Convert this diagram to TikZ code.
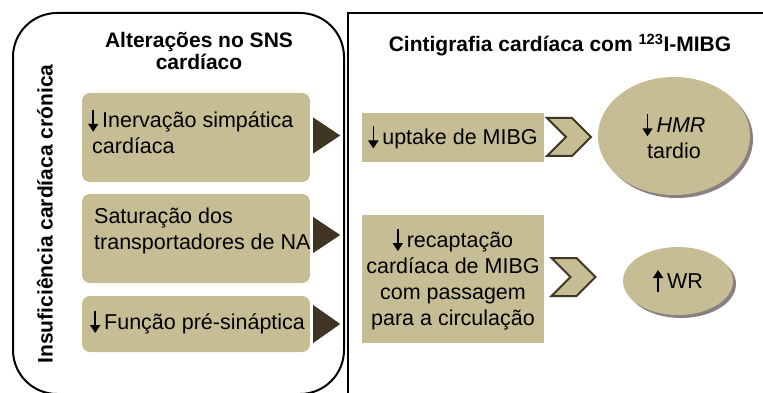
\documentclass[tikz,border=0pt]{standalone}
\usepackage{fontspec}
\setmainfont{Liberation Sans}
\usetikzlibrary{arrows.meta,shapes.geometric,shapes.symbols,shadows}
\definecolor{caqui}{HTML}{C6BD94}
\definecolor{castanho}{HTML}{3F3522}
\definecolor{sombra}{HTML}{8A8080}
\newcommand\setabaixo{\tikz[x=1pt,y=1pt,baseline=0pt]\draw[line width=1.6pt,-{Triangle[length=8pt,width=10pt]}] (0,18)--(0,-4);\hspace{4pt}}
\newcommand\setacima{\tikz[x=1pt,y=1pt,baseline=0pt]\draw[line width=1.6pt,-{Triangle[length=8pt,width=10pt]}] (0,-4)--(0,18);\hspace{4pt}}
\begin{document}
\begin{tikzpicture}[x=1pt,y=-1pt,line join=miter,font=\fontsize{21.5}{26}\selectfont]
		\tikzset{caixa/.style={fill=caqui,inner sep=0pt},
			texto/.style={inner sep=0pt,align=left,anchor=west},
			titulo/.style={inner sep=0pt,align=center,font=\bfseries\fontsize{21}{22}\selectfont},
			chevron/.style={signal,signal to=east,signal from=west,fill=caqui,draw=castanho,line width=2pt,
				inner sep=0pt,minimum width=44pt,minimum height=38pt},
			balao/.style={ellipse,fill=caqui,inner sep=0pt,align=center,
				drop shadow={shadow xshift=3pt,shadow yshift=-3pt,fill=sombra,opacity=1}}}
		\useasboundingbox (0,0) rectangle (763,393);
		%--------- Painéis
		\draw[line width=2pt,rounded corners=44pt] (13,13) rectangle (344,394);
		\draw[line width=2.5pt] (348,400)--(348,13)--(770,13);
		\node[titulo] (tsns) at (199,51) {Alterações no SNS\\cardíaco};
		\node[titulo] (tcint) at (560,45) {Cintigrafia cardíaca com \textsuperscript{123}I-MIBG};
		\node[rotate=90,inner sep=0pt,font=\bfseries\fontsize{21}{26}\selectfont] (icc) at (45,214) {Insuficiência cardíaca crónica};
		%--------- Alterações
		\node[caixa,rounded corners=8pt,minimum width=228pt,minimum height=89pt] (b1) at (196,137.5) {};
		\node[caixa,rounded corners=8pt,minimum width=228pt,minimum height=89pt] (b2) at (196,238.5) {};
		\node[caixa,rounded corners=8pt,minimum width=228pt,minimum height=56pt] (b3) at (196,324) {};
		\node[texto] (t1) at (88,131.5) {\setabaixo Inervação simpática\\\hspace*{4pt}cardíaca};
		\node[texto] (t2) at (94,230.5) {Saturação dos\\transportadores de NA};
		\node[texto] (t3) at (90,322) {\setabaixo Função pré-sináptica};
		\fill[castanho] (b1.east) ++(3,-20) --++(27,18) --++(-27,18) --cycle;
		\fill[castanho] (b2.east) ++(3,-21.5) --++(27,18) --++(-27,18) --cycle;
		\fill[castanho] (b3.east) ++(3,-19) --++(27,19) --++(-27,19) --cycle;
		%--------- Cintigrafia
		\node[caixa,minimum width=182pt,minimum height=49pt] (r1) at (453,137.5) {\setabaixo uptake de MIBG};
		\node[caixa,minimum width=182pt,minimum height=128pt,align=center] (r2) at (453,279)
			{\setabaixo recaptação\\cardíaca de MIBG\\com passagem\\para a circulação};
		\node[chevron] (c1) at (569,137) {};
		\node[chevron] (c2) at (573.5,277) {};
		\node[balao,minimum width=152pt,minimum height=118pt] (e1) at (674,136) {\setabaixo\textit{HMR}\\tardio};
		\node[balao,minimum width=110pt,minimum height=68pt] (e2) at (678,281) {\setacima WR};
	\end{tikzpicture}
\end{document}
